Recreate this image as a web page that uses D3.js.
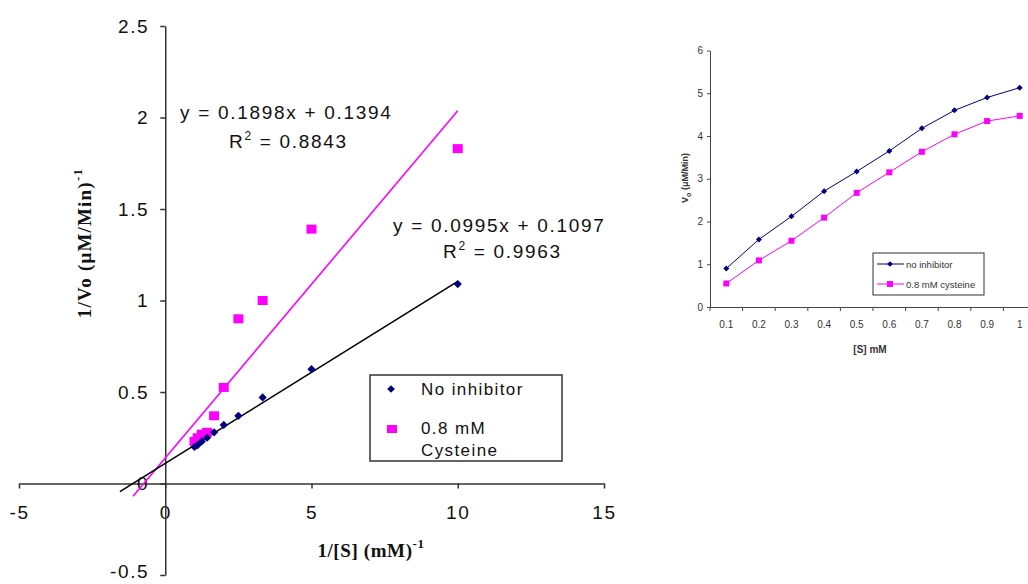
<!DOCTYPE html>
<html>
<head>
<meta charset="utf-8">
<script src="https://cdn.jsdelivr.net/npm/d3@7"></script>
<style>
  body { margin: 0; background: #fff; }
  svg { display: block; }
</style>
</head>
<body>
<div id="chart"></div>
<script>
// Lineweaver-Burk data (1/[S], 1/Vo)
const invS = [10, 5, 3.33, 2.5, 2, 1.67, 1.43, 1.25, 1.11, 1]
const invVoNoInhib = [1.09, 0.625, 0.47, 0.37, 0.32, 0.28, 0.25, 0.23, 0.21, 0.2]
const invVoCys = [1.83, 1.39, 1.0, 0.9, 0.525, 0.37, 0.28, 0.27, 0.25, 0.23]
const fitNoInhib = {slope: 0.0995, icept: 0.1097, from: -1.55, to: 10}
const fitCys = {slope: 0.1898, icept: 0.1394, from: -1.1, to: 10}
const lbXTicks = [-5, 0, 5, 10, 15]
const lbYTicks = [-0.5, 0, 0.5, 1, 1.5, 2, 2.5]

// Michaelis-Menten data ([S], Vo)
const conc = ["0.1", "0.2", "0.3", "0.4", "0.5", "0.6", "0.7", "0.8", "0.9", "1"]
const voNoInhib = [0.9, 1.58, 2.12, 2.71, 3.17, 3.65, 4.18, 4.6, 4.9, 5.13]
const voCys = [0.55, 1.09, 1.55, 2.09, 2.67, 3.15, 3.63, 4.04, 4.35, 4.47]
const mmYTicks = [0, 1, 2, 3, 4, 5, 6]

const navy = "#000080", magenta = "#ff00ff"

const svg = d3.select('#chart').append('svg')
    .attr('width', 1028)
    .attr('height', 584)

// ---------- left chart ----------
const x = d3.scaleLinear().domain([-5, 15]).range([19, 604])
const y = d3.scaleLinear().domain([-0.5, 2.5]).range([575, 26])
const sans = "'Liberation Sans', Arial, sans-serif"
const serif = "'Liberation Serif', 'Times New Roman', serif"

const lb = svg.append('g')

// x axis at y=0
const xAx = lb.append('g')
    .attr('transform', 'translate(0,' + y(0) + ')')
    .call(d3.axisBottom(x).tickValues(lbXTicks).tickFormat(d => String(d))
          .tickSize(5).tickSizeOuter(0).tickPadding(17))
// y axis at x=0
const yAx = lb.append('g')
    .attr('transform', 'translate(' + x(0) + ',0)')
    .call(d3.axisLeft(y).tickValues(lbYTicks).tickFormat(d => String(d))
          .tickSize(5).tickSizeOuter(0).tickPadding(11))
for (const ax of [xAx, yAx]) {
    ax.select('.domain').attr('stroke', '#333').attr('stroke-width', 1.5)
    ax.selectAll('.tick line').attr('stroke', '#333').attr('stroke-width', 1.5)
    ax.selectAll('.tick text').attr('fill', '#111')
        .style('font-family', sans).style('font-size', '19px').style('letter-spacing', '1.6px')
}
// keep the lowest label inside the picture
yAx.selectAll('.tick text').filter(d => d === -0.5).attr('dy', '0.12em')

// trendlines
function fitLine(f, color) {
    const pts = [f.from, f.to].map(v => [v, f.slope * v + f.icept])
    lb.append('path')
        .datum(pts)
        .attr('fill', 'none')
        .attr('stroke', color)
        .attr('stroke-width', 1.6)
        .attr('d', d3.line().x(d => x(d[0])).y(d => y(d[1])))
}
fitLine(fitCys, magenta)
fitLine(fitNoInhib, '#000')

// points
const lbNo = invS.map((v, i) => [v, invVoNoInhib[i]])
const lbCy = invS.map((v, i) => [v, invVoCys[i]])
lb.selectAll('.cy').data(lbCy).join('rect')
    .attr('x', d => x(d[0]) - 5).attr('y', d => y(d[1]) - 4.5)
    .attr('width', 10).attr('height', 9)
    .attr('fill', magenta)
lb.selectAll('.no').data(lbNo).join('path')
    .attr('transform', d => 'translate(' + x(d[0]) + ',' + y(d[1]) + ') rotate(45)')
    .attr('d', d3.symbol(d3.symbolSquare, 34))
    .attr('fill', navy)

// equations
const eqStyle = s => s.attr('fill', '#111').style('font-family', sans)
    .style('font-size', '19px').style('letter-spacing', '1.7px')
function eqText(px, py, txt) {
    lb.append('text').attr('x', px).attr('y', py).text(txt).call(eqStyle)
}
function r2Text(px, py, val) {
    const t = lb.append('text').attr('x', px).attr('y', py).call(eqStyle)
    t.append('tspan').text('R')
    t.append('tspan').attr('dy', -8).style('font-size', '12px').text('2')
    t.append('tspan').attr('dy', 8).text(' = ' + val)
}
eqText(180, 119, 'y = 0.1898x + 0.1394')
r2Text(229, 148, '0.8843')
eqText(393, 232, 'y = 0.0995x + 0.1097')
r2Text(443, 258, '0.9963')

// legend
const lg = lb.append('g')
lg.append('rect').attr('x', 370).attr('y', 375).attr('width', 192).attr('height', 86)
    .attr('fill', '#fff').attr('stroke', '#333').attr('stroke-width', 1.5)
lg.append('path').attr('transform', 'translate(391,389) rotate(45)')
    .attr('d', d3.symbol(d3.symbolSquare, 30)).attr('fill', navy)
lg.append('rect').attr('x', 387).attr('y', 425).attr('width', 10).attr('height', 8).attr('fill', magenta)
const lgStyle = s => s.attr('fill', '#111').style('font-family', sans)
    .style('font-size', '17px').style('letter-spacing', '1.4px')
lg.append('text').attr('x', 421).attr('y', 395).text('No inhibitor').call(lgStyle)
lg.append('text').attr('x', 421).attr('y', 434).text('0.8 mM').call(lgStyle)
lg.append('text').attr('x', 421).attr('y', 456).text('Cysteine').call(lgStyle)

// axis titles
const xt = lb.append('text').attr('x', 371).attr('y', 557).attr('text-anchor', 'middle')
    .style('font-family', serif).style('font-weight', 'bold').style('font-size', '19px')
    .style('letter-spacing', '0.6px').attr('fill', '#111')
xt.append('tspan').text('1/[S] (mM)')
xt.append('tspan').attr('dy', -9).style('font-size', '13px').text('-1')
const yt = lb.append('text').attr('transform', 'translate(91,243) rotate(-90)').attr('text-anchor', 'middle')
    .style('font-family', serif).style('font-weight', 'bold').style('font-size', '19px')
    .style('letter-spacing', '1.2px').attr('fill', '#111')
yt.append('tspan').text('1/Vo (\u03bcM/Min)')
yt.append('tspan').attr('dy', -9).style('font-size', '13px').text('-1')

// ---------- right chart ----------
const mx = d3.scaleBand().domain(conc).range([710, 1036])
const my = d3.scaleLinear().domain([0, 6]).range([307, 50.5])
const mm = svg.append('g')
const small = s => s.attr('fill', '#333').style('font-family', sans).style('font-size', '10px')

const myAx = mm.append('g').attr('transform', 'translate(710,0)')
    .call(d3.axisLeft(my).tickValues(mmYTicks).tickFormat(d => String(d))
          .tickSize(3).tickSizeOuter(0).tickPadding(4))
const mxAx = mm.append('g').attr('transform', 'translate(0,307)')
    .call(d3.axisBottom(mx).tickSize(0).tickPadding(14))
mxAx.selectAll('.tick').data(conc).append('line')
    .attr('x1', -mx.bandwidth() / 2).attr('x2', -mx.bandwidth() / 2)
    .attr('y1', 0).attr('y2', 4)
for (const ax of [myAx, mxAx]) {
    ax.select('.domain').attr('stroke', '#444')
    ax.selectAll('.tick line').attr('stroke', '#444')
    ax.selectAll('.tick text').call(small)
}

const lineGen = d3.line().x((d, i) => mx(conc[i]) + mx.bandwidth() / 2).y(d => my(d))
mm.append('path').datum(voNoInhib).attr('fill', 'none').attr('stroke', navy).attr('stroke-width', 1).attr('d', lineGen)
mm.append('path').datum(voCys).attr('fill', 'none').attr('stroke', magenta).attr('stroke-width', 1).attr('d', lineGen)
mm.selectAll('.mno').data(voNoInhib).join('path')
    .attr('transform', (d, i) => 'translate(' + (mx(conc[i]) + mx.bandwidth() / 2) + ',' + my(d) + ') rotate(45)')
    .attr('d', d3.symbol(d3.symbolSquare, 18)).attr('fill', navy)
mm.selectAll('.mcy').data(voCys).join('rect')
    .attr('x', (d, i) => mx(conc[i]) + mx.bandwidth() / 2 - 3).attr('y', d => my(d) - 3)
    .attr('width', 6).attr('height', 6).attr('fill', magenta)

// right legend
const lg2 = mm.append('g')
lg2.append('rect').attr('x', 873).attr('y', 253).attr('width', 111).attr('height', 42)
    .attr('fill', '#fff').attr('stroke', '#333').attr('stroke-width', 1)
lg2.append('line').attr('x1', 877).attr('x2', 904).attr('y1', 264).attr('y2', 264).attr('stroke', navy)
lg2.append('path').attr('transform', 'translate(890,264) rotate(45)')
    .attr('d', d3.symbol(d3.symbolSquare, 16)).attr('fill', navy)
lg2.append('line').attr('x1', 877).attr('x2', 904).attr('y1', 284).attr('y2', 284).attr('stroke', magenta)
lg2.append('rect').attr('x', 887).attr('y', 281).attr('width', 6).attr('height', 6).attr('fill', magenta)
lg2.append('text').attr('x', 906).attr('y', 267.5).text('no inhibitor').call(small).style('font-size', '9.5px')
lg2.append('text').attr('x', 906).attr('y', 287.5).text('0.8 mM cysteine').call(small).style('font-size', '9.5px')

// right titles
mm.append('text').attr('x', 870).attr('y', 353).attr('text-anchor', 'middle')
    .text('[S] mM').call(small).style('font-weight', 'bold')
const myt = mm.append('text').attr('transform', 'translate(688,178) rotate(-90)').attr('text-anchor', 'middle')
    .call(small).style('font-size', '9px').style('font-weight', 'bold')
myt.append('tspan').text('V')
myt.append('tspan').attr('dy', 3).style('font-size', '7px').text('o')
myt.append('tspan').attr('dy', -3).text(' (\u03bcM/Min)')
</script>
</body>
</html>
